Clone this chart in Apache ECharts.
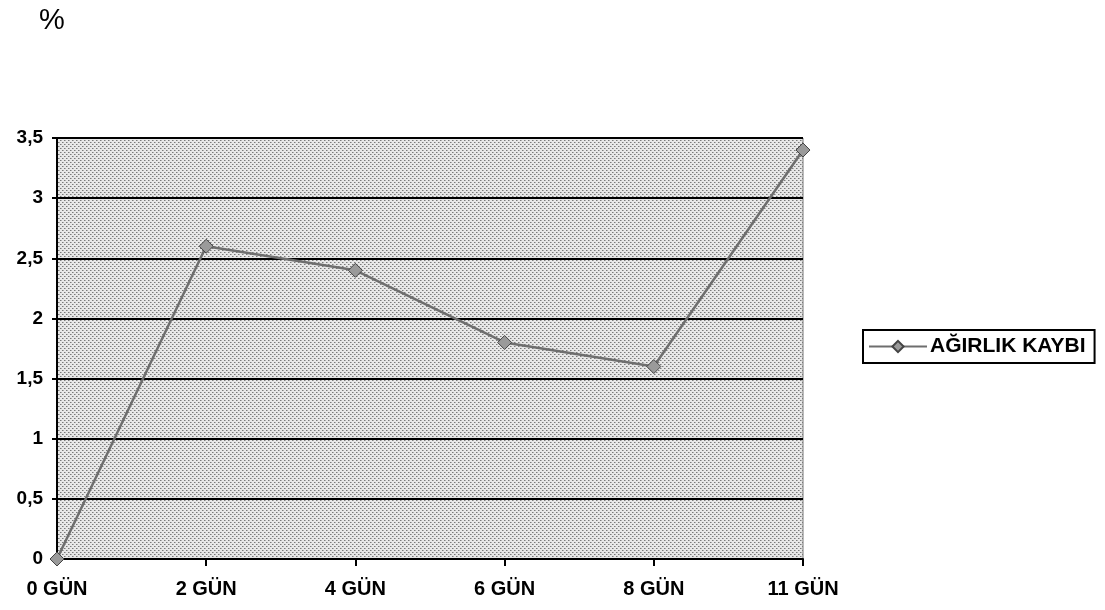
<!DOCTYPE html>
<html><head><meta charset="utf-8">
<script src="https://cdn.jsdelivr.net/npm/echarts@6/dist/echarts.min.js"></script>
<style>html,body{margin:0;padding:0;background:#fff}#c{width:1105px;height:610px}</style>
</head><body><div id="c"></div>
<script>
const categories = ['0 GÜN','2 GÜN','4 GÜN','6 GÜN','8 GÜN','11 GÜN'];
const weightLoss = [0, 2.6, 2.4, 1.8, 1.6, 3.4];
const seriesName = 'AĞIRLIK KAYBI';
const unitLabel = '%';

// dotted background pattern
const pc = document.createElement('canvas');
pc.width = 4; pc.height = 4;
const g = pc.getContext('2d');
g.fillStyle = '#e8e8e8'; g.fillRect(0,0,4,4);
g.fillStyle = '#7a7a7a';
g.fillRect(0,0,1,1); g.fillRect(2,2,1,1);
g.fillStyle = '#b0b0b0';
g.fillRect(1,0,1,1); g.fillRect(3,2,1,1);

const font = 'Liberation Sans';
const chart = echarts.init(document.getElementById('c'));
chart.setOption({
  animation: false,
  backgroundColor: '#fff',
  title: { text: unitLabel, left: 34, top: 1, textStyle: { fontFamily: font, fontSize: 29, fontWeight: 'normal', color: '#000' } },
  grid: { left: 57, right: 302, top: 138, bottom: 51, show: true, backgroundColor: { image: pc, repeat: 'repeat' }, borderColor: '#777', borderWidth: 1 },
  legend: {
    data: [seriesName], left: 863, top: 330, orient: 'vertical',
    borderColor: '#000', borderWidth: 2, padding: [6, 9, 6, 5],
    itemWidth: 58, itemHeight: 14, itemGap: 4,
    textStyle: { fontFamily: font, fontWeight: 'bold', fontSize: 21, color: '#000', padding: [0, 0, 0, -2] }
  },
  xAxis: {
    type: 'category', data: categories, boundaryGap: false,
    axisLine: { lineStyle: { color: '#000', width: 2 } },
    axisTick: { show: true, length: 7, lineStyle: { color: '#000', width: 2 } },
    axisLabel: { fontFamily: font, fontWeight: 'bold', fontSize: 20, color: '#000', margin: 20 },
    splitLine: { show: false }
  },
  yAxis: {
    type: 'value', min: 0, max: 3.5, interval: 0.5,
    axisLine: { show: true, lineStyle: { color: '#000', width: 2 } },
    axisTick: { show: true, length: 5, lineStyle: { color: '#000', width: 2 } },
    axisLabel: { fontFamily: font, fontWeight: 'bold', fontSize: 19, color: '#000', margin: 14,
      formatter: v => String(v).replace('.', ',') },
    splitLine: { show: true, lineStyle: { color: '#000', width: 2 } }
  },
  series: [{
    name: seriesName, type: 'line', data: weightLoss,
    symbol: 'diamond', symbolSize: 14,
    lineStyle: { color: '#6e6e6e', width: 2.5 },
    itemStyle: { color: '#9a9a9a', borderColor: '#444', borderWidth: 1 }
  }]
});
</script></body></html>
